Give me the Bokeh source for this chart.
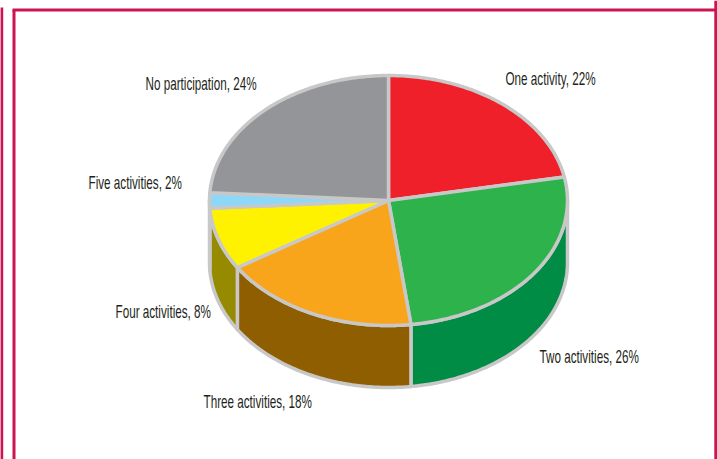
import numpy as np
from bokeh.document import Document
from bokeh.embed import file_html
from bokeh.events import DocumentReady
from bokeh.models import ColumnDataSource, CustomJS, Range1d
from bokeh.plotting import figure
from bokeh.resources import INLINE
from bokeh.core.properties import value

# Share of respondents by number of activities, clockwise from twelve o'clock
categories = ["One activity", "Two activities", "Three activities", "Four activities",
              "Five activities", "No participation"]
shares = [22, 26, 18, 8, 2, 24]
top_colors = ["#EF2029", "#2DB24C", "#F8A51C", "#FFF200", "#8DD8F8", "#939598"]
wall_colors = ["#B01820", "#008C45", "#8E5E00", "#968B00", "#968B00", "#6E6E70"]
label_x = [505, 539, 203, 115, 88, 145]
label_y = [78, 356, 401, 311, 182, 83]

# Tilted-disc geometry in page pixels
CX, CY, RX, RY, DEPTH = 388, 200, 179, 125, 62
EDGE = "#C8C8C8"
FRAME = "#CC1450"


def rim(start, end, n=90):
    t = np.radians(np.linspace(start, end, n))
    return CX + RX * np.sin(t), CY - RY * np.cos(t)


p = figure(width=717, height=459, output_backend="svg", toolbar_location=None,
           x_range=Range1d(0, 717), y_range=Range1d(459, 0), min_border=0)
p.axis.visible = False
p.grid.visible = False
p.outline_line_color = None
p.background_fill_color = "white"

# Page frame running off the bottom edge
p.line([1.2, 1.2], [7, 459], line_color=FRAME, line_width=3)
p.line([13.5, 13.5], [459, 9.5], line_color=FRAME, line_width=3)
p.line([12, 715], [9.5, 9.5], line_color=FRAME, line_width=3)
p.line([715.3, 715.3], [0, 459], line_color=FRAME, line_width=3)

bounds = np.cumsum([0] + shares) * 3.6

# Side wall: only the front half of the rim (90 to 270 degrees) is visible
for i, col in enumerate(wall_colors):
    a, b = max(bounds[i], 90), min(bounds[i + 1], 270)
    if a >= b:
        continue
    x, y = rim(a, b)
    xs = np.concatenate([x, x[::-1]])
    ys = np.concatenate([y, y[::-1] + DEPTH])
    p.patch(xs, ys, fill_color=col, line_color=EDGE, line_width=3.5, line_join="round")

# Top face
for i, col in enumerate(top_colors):
    x, y = rim(bounds[i], bounds[i + 1])
    p.patch(np.concatenate([[CX], x]), np.concatenate([[CY], y]),
            fill_color=col, line_color=EDGE, line_width=3.5, line_join="round")

labels = ColumnDataSource(dict(
    x=label_x, y=label_y,
    text=[f"{c}, {s}%" for c, s in zip(categories, shares)],
))
p.text("x", "y", text="text", source=labels, text_font=value("Liberation Sans"),
       text_font_size="19px", text_color="#231F20", text_baseline="middle", text_align="left")

# Set the labels in a condensed width; repeated in case the SVG is rebuilt after a repaint
condense = CustomJS(code="""
function walk(root) {
  root.querySelectorAll('*').forEach(el => {
    if (el.shadowRoot) walk(el.shadowRoot);
    if (el.tagName.toLowerCase() === 'text' && !el.hasAttribute('textLength')) {
      el.setAttribute('textLength', el.getComputedTextLength() * 0.615);
      el.setAttribute('lengthAdjust', 'spacingAndGlyphs');
    }
  });
}
walk(document);
setInterval(() => walk(document), 50);
""")

doc = Document()
doc.add_root(p)
doc.js_on_event(DocumentReady, condense)

open("out.html", "w").write(file_html(doc, INLINE))
